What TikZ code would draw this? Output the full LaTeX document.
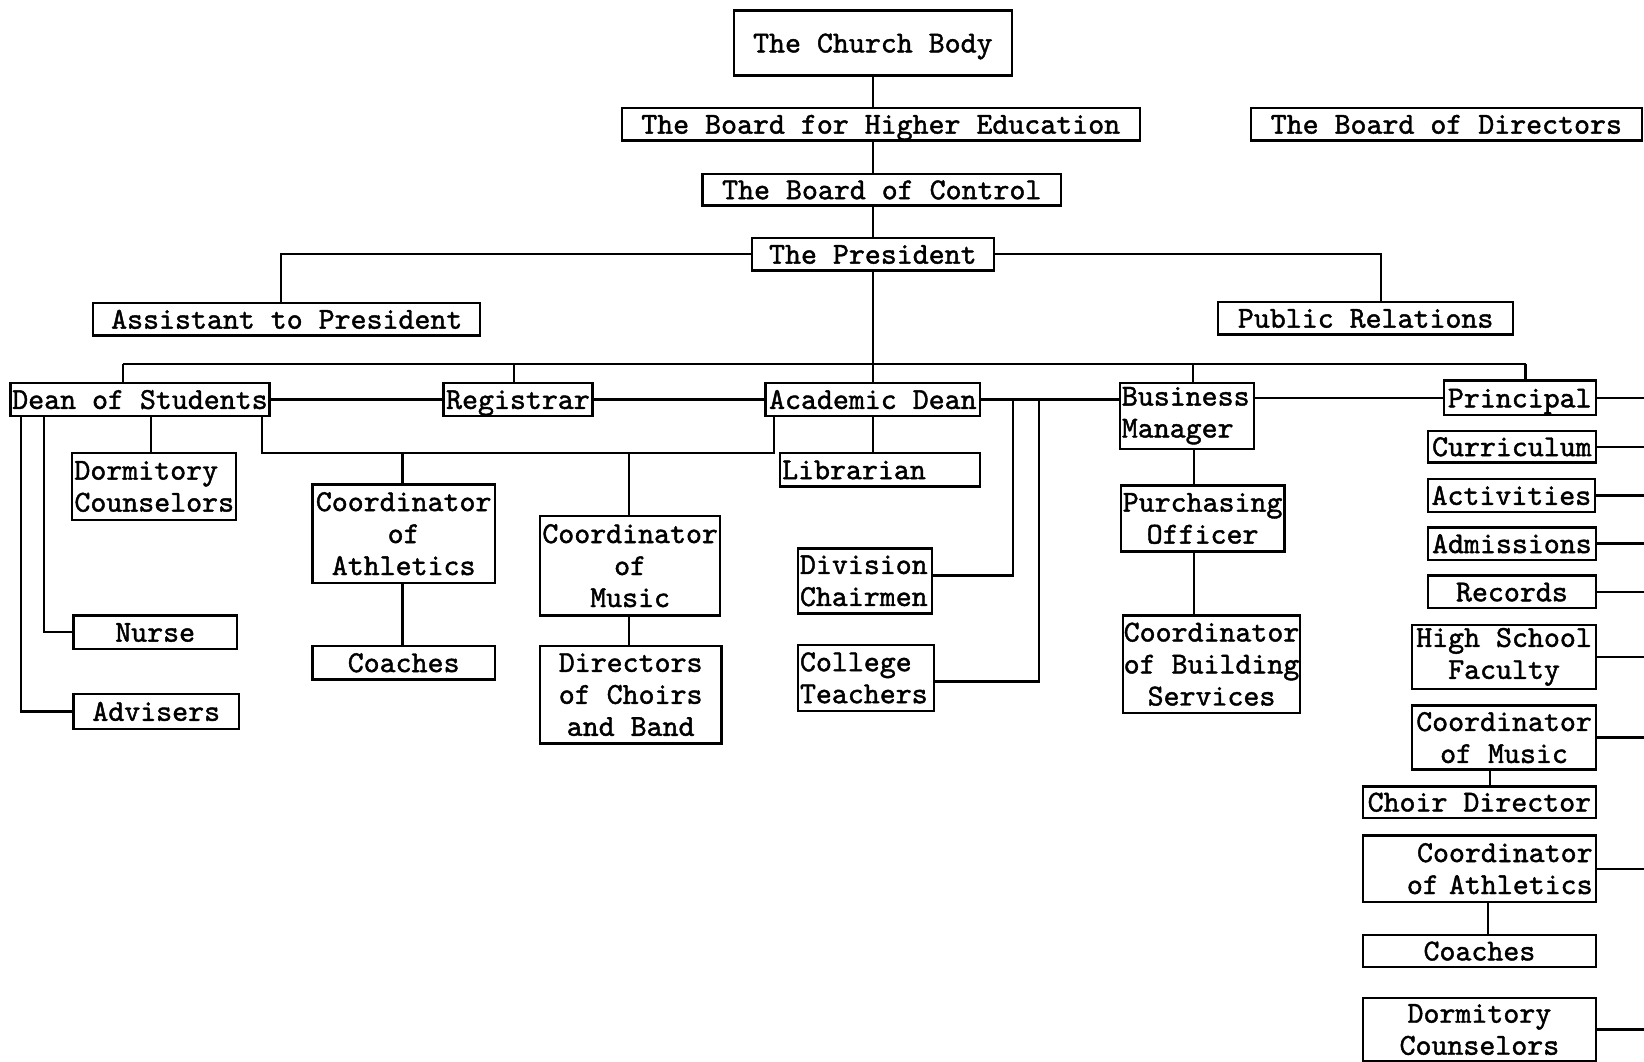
\documentclass[tikz,border=0pt]{standalone}
\usepackage{fontspec}
\newfontfamily\orgtt{lmmono10-regular.otf}[FakeBold=1.4]
\newcommand\orgfont{\fontsize{29}{30.5}\selectfont\orgtt}
\begin{document}
\begin{tikzpicture}[x=1pt,y=-1pt,
  box/.style={draw, line width=2.2pt, inner sep=0pt, font=\orgfont, align=center},
  one/.style={text height=20pt, text depth=2pt},
  wh/.style n args={2}{minimum width=#1pt, minimum height=#2pt},
  lbox/.style={text width=#1pt, align=left, inner xsep=2pt},
  rbox/.style={text width=#1pt, align=right, inner xsep=3pt},
  link/.style={line width=2.2pt},
]
\useasboundingbox[fill=white] (0,0) rectangle (1568,1012);

% top of the chain
\node[box, one, wh={265}{62}] (church) at (832.5,41) {The Church Body};
\node[box, one, wh={494}{31}] (bhe) at (840,118.5) {The Board for Higher Education};
\node[box, one, wh={373}{31}] (bod) at (1379.5,118.5) {The Board of Directors};
\node[box, one, wh={342}{30}] (boc) at (841,181) {The Board of Control};
\node[box, one, wh={231}{31}] (pres) at (832.5,242.5) {The President};
\node[box, one, wh={369}{31}] (asst) at (273.5,304.5) {Assistant to President};
\node[box, one, wh={281}{31}] (pr) at (1302.5,303.5) {Public Relations};

% officers under the president
\node[box, one, wh={247}{32}] (dean) at (133.5,381) {Dean of Students};
\node[box, one, wh={142}{32}] (reg) at (494,381) {Registrar};
\node[box, one, wh={205}{32}] (acad) at (832.5,381) {Academic Dean};
\node[box, wh={128}{63}, lbox=124] (bm) at (1132,396.5) {Business\\Manager};
\node[box, one, wh={145}{33}] (prin) at (1449.5,379.5) {Principal};

% student affairs
\node[box, wh={156}{64}, lbox=152] (dorm) at (147,464) {Dormitory\\Counselors};
\node[box, one, wh={156}{32}] (nurse) at (148,603) {Nurse};
\node[box, one, wh={158}{33}] (adv) at (149,678.5) {Advisers};
\node[box, wh={174}{94}] (cath) at (385,509) {Coordinator\\of\\Athletics};
\node[box, one, wh={174}{32}] (coach) at (385,632) {Coaches};
\node[box, wh={172}{95}] (cmus) at (601,539.5) {Coordinator\\of\\Music};
\node[box, wh={173}{93}] (dir) at (601.5,662.5) {Directors\\of Choirs\\and Band};

% academic side
\node[box, one, wh={191}{32}, lbox=187] (lib) at (839.5,448) {Librarian};
\node[box, wh={128}{62}, lbox=124] (div) at (825,554) {Division\\Chairmen};
\node[box, wh={130}{63}, lbox=126] (ct) at (826,646.5) {College\\Teachers};

% business side
\node[box, wh={156}{63}] (po) at (1147,494.5) {Purchasing\\Officer};
\node[box, wh={169}{93}] (cbs) at (1155.5,633.5) {Coordinator\\of Building\\Services};

% high school column
\node[box, one, wh={160}{30}] (cur) at (1442,426) {Curriculum};
\node[box, one, wh={159}{31}] (act) at (1441.5,472.5) {Activities};
\node[box, one, wh={160}{31}] (adm) at (1442,518.5) {Admissions};
\node[box, one, wh={160}{31}] (rec) at (1442,564.5) {Records};
\node[box, wh={175}{61}] (hsf) at (1434.5,626.5) {High School\\Faculty};
\node[box, wh={175}{61}] (pmus) at (1434.5,703.5) {Coordinator\\of Music};
\node[box, one, wh={222}{30}] (choir) at (1411,765) {Choir Director};
\node[box, wh={222}{63}, rbox=216] (path) at (1411,828.5) {Coordinator\\of Athletics};
\node[box, one, wh={222}{30}] (pcoach) at (1411,907) {Coaches};
\node[box, wh={222}{60}] (pdorm) at (1411,982) {Dormitory\\Counselors};

% helper points
\coordinate (edge) at (1568,0);
\coordinate (busL) at (117,347);
\coordinate (busR) at (1455,347);
\coordinate (j1) at (250,432);
\coordinate (j2) at (738,432);
\coordinate (a1) at (966,381);
\coordinate (a2) at (991,381);

% chain of authority
\draw[link] (church.south) -- (church.south |- bhe.north);
\draw[link] (bhe.south -| church.south) -- (church.south |- boc.north);
\draw[link] (boc.south -| church.south) -- (church.south |- pres.north);
\draw[link] (pres.west) -| ([xshift=-5.5pt]asst.north);
\draw[link] (pres.east) -| ([xshift=14.5pt]pr.north);
\draw[link] (pres.south) -- (pres.south |- busL);
\draw[link] (busL) -- (busR);
\draw[link] ([xshift=-16.5pt]dean.north) -- ([xshift=-16.5pt]dean.north |- busL);
\draw[link] ([xshift=-4pt]reg.north) -- ([xshift=-4pt]reg.north |- busL);
\draw[link] (acad.north) -- (acad.north |- busL);
\draw[link] ([xshift=6pt]bm.north) -- ([xshift=6pt]bm.north |- busL);
\draw[link] ([xshift=5.5pt]prin.north) -- (busR);

% links along the officer row
\draw[link] (dean.east) -- (reg.west);
\draw[link] (reg.east) -- (acad.west);
\draw[link] (acad.east) -- (bm.west |- acad.east);
\draw[link] (bm.east |- prin.west) -- (prin.west);
\draw[link] (prin.east) -- (prin.east -| edge);

% student affairs links
\draw[link] ([xshift=10.5pt]dean.south) -- ([xshift=10.5pt]dean.south |- dorm.north);
\draw[link] ([xshift=-91.5pt]dean.south) |- (nurse.west);
\draw[link] ([xshift=-113.5pt]dean.south) |- (adv.west);
\draw[link] ([xshift=116.5pt]dean.south) -- (j1) -- (j2) -- ([xshift=-94.5pt]acad.south);
\draw[link] ([xshift=-1pt]cath.north) -- ([xshift=-1pt]cath.north |- j1);
\draw[link] ([xshift=-1pt]cmus.north) -- ([xshift=-1pt]cmus.north |- j1);
\draw[link] ([xshift=-1pt]cath.south) -- ([xshift=-1pt]coach.north);
\draw[link] ([xshift=-1pt]cmus.south) -- ([xshift=-1.5pt]dir.north);

% academic links
\draw[link] (acad.south) -- (acad.south |- lib.north);
\draw[link] (a1) |- ([yshift=5pt]div.east);
\draw[link] (a2) |- ([yshift=-3.5pt]ct.east);

% business links
\draw[link] ([xshift=7pt]bm.south) -- ([xshift=7pt]bm.south |- po.north);
\draw[link] ([xshift=-8pt]po.south) -- ([xshift=-8pt]po.south |- cbs.north);

% high school links
\foreach \n in {cur,act,adm,rec,hsf,pmus,path,pdorm}
  \draw[link] (\n.east) -- (\n.east -| edge);
\draw[link] ([xshift=-13.5pt]pmus.south) -- ([xshift=-13.5pt]pmus.south |- choir.north);
\draw[link] ([xshift=8pt]path.south) -- ([xshift=8pt]path.south |- pcoach.north);
\end{tikzpicture}
\end{document}
